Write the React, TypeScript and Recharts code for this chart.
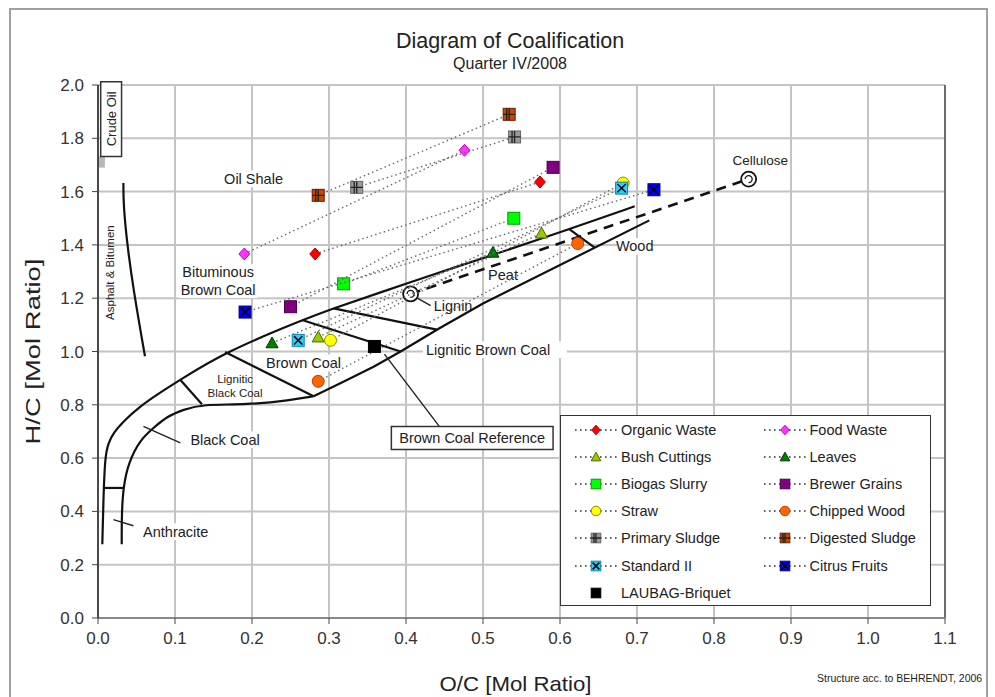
import React from "react";
import {
  ComposedChart,
  Scatter,
  XAxis,
  YAxis,
  CartesianGrid,
  ReferenceDot,
  ReferenceArea,
  ReferenceLine,
} from "recharts";

type Pt = { x: number; y: number };

const FONT = '"Liberation Sans", Arial, Helvetica, sans-serif';

const xTicks = [0, 0.1, 0.2, 0.3, 0.4, 0.5, 0.6, 0.7, 0.8, 0.9, 1.0, 1.1];
const yTicks = [0, 0.2, 0.4, 0.6, 0.8, 1.0, 1.2, 1.4, 1.6, 1.8, 2.0];

// substrate samples: [raw material, after treatment]
const organicWaste: Pt[] = [{ x: 0.282, y: 1.366 }, { x: 0.574, y: 1.636 }];
const foodWaste: Pt[] = [{ x: 0.19, y: 1.366 }, { x: 0.476, y: 1.755 }];
const bushCuttings: Pt[] = [{ x: 0.286, y: 1.054 }, { x: 0.576, y: 1.444 }];
const leaves: Pt[] = [{ x: 0.226, y: 1.032 }, { x: 0.513, y: 1.372 }];
const biogasSlurry: Pt[] = [{ x: 0.319, y: 1.254 }, { x: 0.54, y: 1.5 }];
const brewerGrains: Pt[] = [{ x: 0.25, y: 1.168 }, { x: 0.591, y: 1.691 }];
const straw: Pt[] = [{ x: 0.302, y: 1.042 }, { x: 0.682, y: 1.632 }];
const chippedWood: Pt[] = [{ x: 0.286, y: 0.888 }, { x: 0.623, y: 1.405 }];
const primarySludge: Pt[] = [{ x: 0.336, y: 1.616 }, { x: 0.541, y: 1.805 }];
const digestedSludge: Pt[] = [{ x: 0.286, y: 1.586 }, { x: 0.534, y: 1.89 }];
const standardII: Pt[] = [{ x: 0.26, y: 1.042 }, { x: 0.68, y: 1.613 }];
const citrusFruits: Pt[] = [{ x: 0.191, y: 1.148 }, { x: 0.722, y: 1.607 }];
const laubagBriquet: Pt[] = [{ x: 0.359, y: 1.019 }];

// coalification band (structure acc. to Behrendt)
const upperBound: Pt[] = [
  { x: 0.0056, y: 0.277 }, { x: 0.007, y: 0.444 }, { x: 0.0091, y: 0.606 },
  { x: 0.0134, y: 0.657 }, { x: 0.02, y: 0.694 }, { x: 0.033, y: 0.738 },
  { x: 0.0547, y: 0.794 }, { x: 0.0764, y: 0.838 }, { x: 0.1068, y: 0.894 },
  { x: 0.165, y: 0.998 }, { x: 0.267, y: 1.12 }, { x: 0.306, y: 1.162 },
  { x: 0.367, y: 1.222 }, { x: 0.445, y: 1.298 }, { x: 0.502, y: 1.352 },
  { x: 0.61, y: 1.457 }, { x: 0.697, y: 1.545 },
];
const lowerCurve: Pt[] = [
  { x: 0.0308, y: 0.277 }, { x: 0.0308, y: 0.394 }, { x: 0.033, y: 0.494 },
  { x: 0.0395, y: 0.582 }, { x: 0.0547, y: 0.669 }, { x: 0.072, y: 0.713 },
  { x: 0.0894, y: 0.756 }, { x: 0.111, y: 0.782 }, { x: 0.135, y: 0.802 },
  { x: 0.1936, y: 0.8 }, { x: 0.25, y: 0.817 }, { x: 0.28, y: 0.832 },
];
const lowerStraight: Pt[] = [
  { x: 0.28, y: 0.832 }, { x: 0.324, y: 0.894 }, { x: 0.3585, y: 0.944 },
  { x: 0.393, y: 1.0 }, { x: 0.444, y: 1.088 }, { x: 0.5, y: 1.18 },
  { x: 0.716, y: 1.492 },
];
const separators: Pt[][] = [
  [{ x: 0.0075, y: 0.488 }, { x: 0.033, y: 0.488 }],
  [{ x: 0.1068, y: 0.894 }, { x: 0.135, y: 0.802 }],
  [{ x: 0.165, y: 0.998 }, { x: 0.28, y: 0.832 }],
  [{ x: 0.265, y: 1.118 }, { x: 0.393, y: 1.0 }],
  [{ x: 0.306, y: 1.162 }, { x: 0.44, y: 1.082 }],
  [{ x: 0.612, y: 1.459 }, { x: 0.645, y: 1.39 }],
];
const asphaltLine: Pt[] = [
  { x: 0.033, y: 1.632 }, { x: 0.033, y: 1.55 }, { x: 0.038, y: 1.4 },
  { x: 0.046, y: 1.232 }, { x: 0.061, y: 0.982 },
];
const ligninToCellulose: Pt[] = [{ x: 0.406, y: 1.216 }, { x: 0.845, y: 1.647 }];
const pointers: Pt[][] = [
  [{ x: 0.02, y: 0.369 }, { x: 0.046, y: 0.346 }],
  [{ x: 0.059, y: 0.719 }, { x: 0.107, y: 0.657 }],
  [{ x: 0.413, y: 1.203 }, { x: 0.432, y: 1.172 }],
  [{ x: 0.372, y: 0.99 }, { x: 0.443, y: 0.72 }],
];

const notes = [
  { id: "oil", text: "Oil Shale", x: 0.202, y: 1.648 },
  { id: "bit1", text: "Bituminous", x: 0.156, y: 1.297 },
  { id: "bit2", text: "Brown Coal", x: 0.156, y: 1.232 },
  { id: "cell", text: "Cellulose", x: 0.86, y: 1.716 },
  { id: "wood", text: "Wood", x: 0.697, y: 1.394 },
  { id: "peat", text: "Peat", x: 0.526, y: 1.288 },
  { id: "lignin", text: "Lignin", x: 0.436, y: 1.169 },
  { id: "lbc", text: "Lignitic Brown Coal", x: 0.426, y: 1.007 },
  { id: "bc", text: "Brown Coal", x: 0.267, y: 0.957 },
  { id: "lblk1", text: "Lignitic", x: 0.178, y: 0.897 },
  { id: "lblk2", text: "Black Coal", x: 0.178, y: 0.844 },
  { id: "blk", text: "Black Coal", x: 0.12, y: 0.669 },
  { id: "anth", text: "Anthracite", x: 0.0586, y: 0.324 },
  { id: "asph", text: "Asphalt & Bitumen", x: 0.0156, y: 1.296 },
];
const refNote = { id: "ref", text: "Brown Coal Reference", x: 0.486, y: 0.675 };
const crudeNote = { id: "crude", text: "Crude Oil", x: 0.017, y: 1.873 };

const noteStyle: Record<string, { size?: number; anchor?: "start" | "middle"; rotate?: boolean; bg?: boolean }> = {
  cell: { size: 13.5, bg: false },
  lignin: { anchor: "start", bg: false },
  lbc: { anchor: "start" },
  lblk1: { size: 11.5, bg: false },
  lblk2: { size: 11.5, bg: false },
  blk: { anchor: "start" },
  anth: { anchor: "start" },
  ref: { bg: false },
  asph: { size: 11.5, rotate: true, bg: false },
  crude: { size: 13, rotate: true, bg: false },
  peat: { bg: false },
};

type Kind = "diamond" | "triangle" | "square" | "circle" | "squareX" | "squarePlus";

const series: { name: string; data: Pt[]; kind: Kind; fill: string; stroke: string; noLine?: boolean }[] = [
  { name: "Organic Waste", data: organicWaste, kind: "diamond", fill: "#ff0000", stroke: "#a00000" },
  { name: "Food Waste", data: foodWaste, kind: "diamond", fill: "#ff33ff", stroke: "#c000c0" },
  { name: "Bush Cuttings", data: bushCuttings, kind: "triangle", fill: "#99cc00", stroke: "#4d6600" },
  { name: "Leaves", data: leaves, kind: "triangle", fill: "#008000", stroke: "#003300" },
  { name: "Biogas Slurry", data: biogasSlurry, kind: "square", fill: "#00ff00", stroke: "#00a000" },
  { name: "Brewer Grains", data: brewerGrains, kind: "square", fill: "#800080", stroke: "#4b004b" },
  { name: "Straw", data: straw, kind: "circle", fill: "#ffff00", stroke: "#8a8a00" },
  { name: "Chipped Wood", data: chippedWood, kind: "circle", fill: "#ff6600", stroke: "#c04000" },
  { name: "Primary Sludge", data: primarySludge, kind: "squarePlus", fill: "#9a9a9a", stroke: "#666" },
  { name: "Digested Sludge", data: digestedSludge, kind: "squarePlus", fill: "#cc4400", stroke: "#662200" },
  { name: "Standard II", data: standardII, kind: "squareX", fill: "#33ccff", stroke: "#0088aa" },
  { name: "Citrus Fruits", data: citrusFruits, kind: "squareX", fill: "#0000ff", stroke: "#000080" },
  { name: "LAUBAG-Briquet", data: laubagBriquet, kind: "square", fill: "#000000", stroke: "#000000", noLine: true },
];

function Glyph({ kind, fill, stroke, cx, cy, s = 1 }: { kind: Kind; fill: string; stroke: string; cx: number; cy: number; s?: number }) {
  const h = 6 * s;
  if (kind === "diamond")
    return <path d={`M${cx},${cy - h}L${cx + h * 0.9},${cy}L${cx},${cy + h}L${cx - h * 0.9},${cy}Z`} fill={fill} stroke={stroke} strokeWidth={1} />;
  if (kind === "triangle")
    return <path d={`M${cx},${cy - h}L${cx + h},${cy + h * 0.8}L${cx - h},${cy + h * 0.8}Z`} fill={fill} stroke={stroke} strokeWidth={1} />;
  if (kind === "circle") return <circle cx={cx} cy={cy} r={h} fill={fill} stroke={stroke} strokeWidth={1} />;
  const sq = <rect x={cx - h} y={cy - h} width={2 * h} height={2 * h} fill={fill} stroke={stroke} strokeWidth={1} />;
  if (kind === "square") return sq;
  const k = h * 0.7;
  if (kind === "squareX")
    return (
      <g>
        {sq}
        <path d={`M${cx - k},${cy - k}L${cx + k},${cy + k}M${cx - k},${cy + k}L${cx + k},${cy - k}`} stroke="#000" strokeWidth={1.5} />
      </g>
    );
  return (
    <g>
      {sq}
      <path d={`M${cx},${cy - h}L${cx},${cy + h}M${cx - h},${cy}L${cx + h},${cy}M${cx - k * 0.6},${cy - h}L${cx - k * 0.6},${cy + h}`} stroke="#222" strokeWidth={1.3} />
    </g>
  );
}

const NoDot = () => <g />;

const OpenRing = (p: any) => (
  <g>
    <circle cx={p.cx} cy={p.cy} r={7.5} fill="#fff" stroke="#111" strokeWidth={1.8} />
    <path d={`M${p.cx - 3.5},${p.cy}A3.5,3.5 0 1,1 ${p.cx},${p.cy + 3.5}`} fill="none" stroke="#111" strokeWidth={1.3} />
  </g>
);

const noteShape = (id: string, text: string) => (p: any) => {
  const st = noteStyle[id] || {};
  const size = st.size ?? 14.5;
  const anchor = st.anchor ?? "middle";
  const bg = st.bg ?? true;
  const w = text.length * size * 0.5 + 6;
  const h = size * 1.15;
  const x0 = anchor === "start" ? p.cx - 3 : p.cx - w / 2;
  return (
    <g transform={st.rotate ? `rotate(-90 ${p.cx} ${p.cy})` : undefined}>
      {bg && <rect x={x0} y={p.cy - h / 2} width={w} height={h} fill="#fff" />}
      <text
        x={p.cx}
        y={p.cy}
        textAnchor={anchor}
        dominantBaseline="central"
        fontSize={size}
        fontFamily={FONT}
        fill="#222"
      >
        {text}
      </text>
    </g>
  );
};

const dotted = { stroke: "#6a6a6a", strokeWidth: 1.4, strokeDasharray: "1.5 3" };
const solid = { stroke: "#111", strokeWidth: 2.2 };

const YTitle = (props: any) => {
  const { x, y, height } = props.viewBox;
  const cx = x - 6;
  const cy = y + height / 2;
  return (
    <text
      x={cx}
      y={cy}
      transform={`rotate(-90 ${cx} ${cy})`}
      textAnchor="middle"
      dominantBaseline="central"
      fontSize={21}
      textLength={186}
      lengthAdjust="spacingAndGlyphs"
      fontFamily={FONT}
      fill="#222"
    >
      H/C [Mol Ratio]
    </text>
  );
};

const XTitle = (props: any) => {
  const { x, y, width } = props.viewBox;
  return (
    <text
      x={x + width / 2 - 6}
      y={y + 65}
      textAnchor="middle"
      dominantBaseline="central"
      fontSize={21}
      textLength={152}
      lengthAdjust="spacingAndGlyphs"
      fontFamily={FONT}
      fill="#222"
    >
      O/C [Mol Ratio]
    </text>
  );
};

function LegendBox() {
  return (
    <div
      style={{
        position: "absolute",
        left: 560,
        top: 415,
        width: 369,
        height: 189,
        border: "1.5px solid #333",
        background: "#fff",
        fontFamily: FONT,
        fontSize: 14.5,
        color: "#222",
      }}
    >
      {series.map((s, i) => {
        const row = Math.floor(i / 2);
        const col = i % 2;
        const cy = 14 + row * 27.1;
        const ix = col === 0 ? 35 : 223.5;
        return (
          <div key={s.name}>
            <svg width={44} height={18} style={{ position: "absolute", left: ix - 22, top: cy - 9 }}>
              {!s.noLine && <line x1={1} y1={9} x2={43} y2={9} stroke="#333" strokeWidth={1.6} strokeDasharray="1.6 3.4" />}
              <Glyph kind={s.kind} fill={s.fill} stroke={s.stroke} cx={22} cy={9} s={0.8} />
            </svg>
            <div style={{ position: "absolute", left: ix + 25, top: cy - 9, lineHeight: "18px", whiteSpace: "nowrap" }}>{s.name}</div>
          </div>
        );
      })}
    </div>
  );
}

export default function App() {
  return (
    <div style={{ position: "absolute", left: 0, top: 0, width: 995, height: 697, background: "#fff", overflow: "hidden", fontFamily: FONT }}>
      <div style={{ position: "absolute", left: 9, top: 8, width: 975, height: 700, borderLeft: "2px solid #a0a0a0", borderTop: "2px solid #a0a0a0", borderRight: "2px solid #a0a0a0" }} />
      <div style={{ position: "absolute", left: 0, top: 0 }}>
        <ComposedChart width={995} height={697} margin={{ top: 85, right: 50, bottom: 49, left: 38 }}>
          <CartesianGrid stroke="#c4c4c4" strokeWidth={2} />
          <XAxis
            type="number"
            dataKey="x"
            domain={[0, 1.1]}
            ticks={xTicks}
            interval={0}
            allowDataOverflow
            height={30}
            tickFormatter={(v: number) => v.toFixed(1)}
            axisLine={{ stroke: "#8a8a8a", strokeWidth: 2 }}
            tickLine={{ stroke: "#444" }}
            tickSize={6}
            tickMargin={8}
            tick={{ fill: "#333", fontSize: 17, fontFamily: FONT }}
            label={<XTitle />}
          />
          <YAxis
            type="number"
            dataKey="y"
            domain={[0, 2]}
            ticks={yTicks}
            interval={0}
            allowDataOverflow
            width={60}
            tickFormatter={(v: number) => v.toFixed(1)}
            axisLine={{ stroke: "#222", strokeWidth: 1.5 }}
            tickLine={{ stroke: "#444" }}
            tickSize={6}
            tickMargin={8}
            tick={{ fill: "#333", fontSize: 17, fontFamily: FONT }}
            label={<YTitle />}
          />
          <ReferenceLine x={1.1} stroke="#333" strokeWidth={1.2} />

          {notes.map((n) => (
            <ReferenceDot key={n.id} x={n.x} y={n.y} r={0} ifOverflow="visible" shape={noteShape(n.id, n.text)} />
          ))}

          <ReferenceArea x1={0} x2={0.009} y1={1.69} y2={1.732} fill="#b8b8b8" fillOpacity={1} stroke="none" ifOverflow="visible" />
          <ReferenceArea x1={0.0035} x2={0.0306} y1={1.732} y2={2.012} fill="#fff" fillOpacity={1} stroke="#333" strokeWidth={1.5} ifOverflow="visible" />
          <ReferenceDot x={crudeNote.x} y={crudeNote.y} r={0} ifOverflow="visible" shape={noteShape(crudeNote.id, crudeNote.text)} />

          <Scatter data={upperBound} line={solid} lineType="joint" lineJointType="basis" shape={NoDot} isAnimationActive={false} />
          <Scatter data={lowerCurve} line={solid} lineType="joint" lineJointType="basis" shape={NoDot} isAnimationActive={false} />
          <Scatter data={lowerStraight} line={solid} lineType="joint" shape={NoDot} isAnimationActive={false} />
          {separators.map((d, i) => (
            <Scatter key={"sep" + i} data={d} line={solid} lineType="joint" shape={NoDot} isAnimationActive={false} />
          ))}
          <Scatter data={asphaltLine} line={solid} lineType="joint" lineJointType="basis" shape={NoDot} isAnimationActive={false} />
          {pointers.map((d, i) => (
            <Scatter key={"ptr" + i} data={d} line={{ stroke: "#222", strokeWidth: 1.4 }} lineType="joint" shape={NoDot} isAnimationActive={false} />
          ))}
          <Scatter
            data={ligninToCellulose}
            line={{ stroke: "#111", strokeWidth: 2.6, strokeDasharray: "10 7" }}
            lineType="joint"
            shape={OpenRing}
            isAnimationActive={false}
          />

          {series
            .filter((s) => !s.noLine)
            .map((s) => (
              <Scatter
                key={s.name}
                name={s.name}
                data={s.data}
                line={dotted}
                lineType="joint"
                shape={(p: any) => <Glyph kind={s.kind} fill={s.fill} stroke={s.stroke} cx={p.cx} cy={p.cy} />}
                isAnimationActive={false}
              />
            ))}

          <ReferenceArea x1={0.381} x2={0.591} y1={0.632} y2={0.719} fill="#fff" fillOpacity={1} stroke="#333" strokeWidth={1.5} ifOverflow="visible" />
          <ReferenceDot x={refNote.x} y={refNote.y} r={0} ifOverflow="visible" shape={noteShape(refNote.id, refNote.text)} />

          {series
            .filter((s) => s.noLine)
            .map((s) => (
              <Scatter
                key={s.name}
                name={s.name}
                data={s.data}
                shape={(p: any) => <Glyph kind={s.kind} fill={s.fill} stroke={s.stroke} cx={p.cx} cy={p.cy} />}
                isAnimationActive={false}
              />
            ))}
        </ComposedChart>
      </div>

      <div style={{ position: "absolute", left: 310, top: 28, width: 400, textAlign: "center", fontSize: 21.5, color: "#222", lineHeight: "26px" }}>
        Diagram of Coalification
      </div>
      <div style={{ position: "absolute", left: 310, top: 55, width: 400, textAlign: "center", fontSize: 16, color: "#222", lineHeight: "18px" }}>
        Quarter IV/2008
      </div>
      <div style={{ position: "absolute", left: 817, top: 672, fontSize: 10.5, color: "#222", whiteSpace: "nowrap" }}>
        Structure acc. to  BEHRENDT, 2006
      </div>
      <LegendBox />
    </div>
  );
}
